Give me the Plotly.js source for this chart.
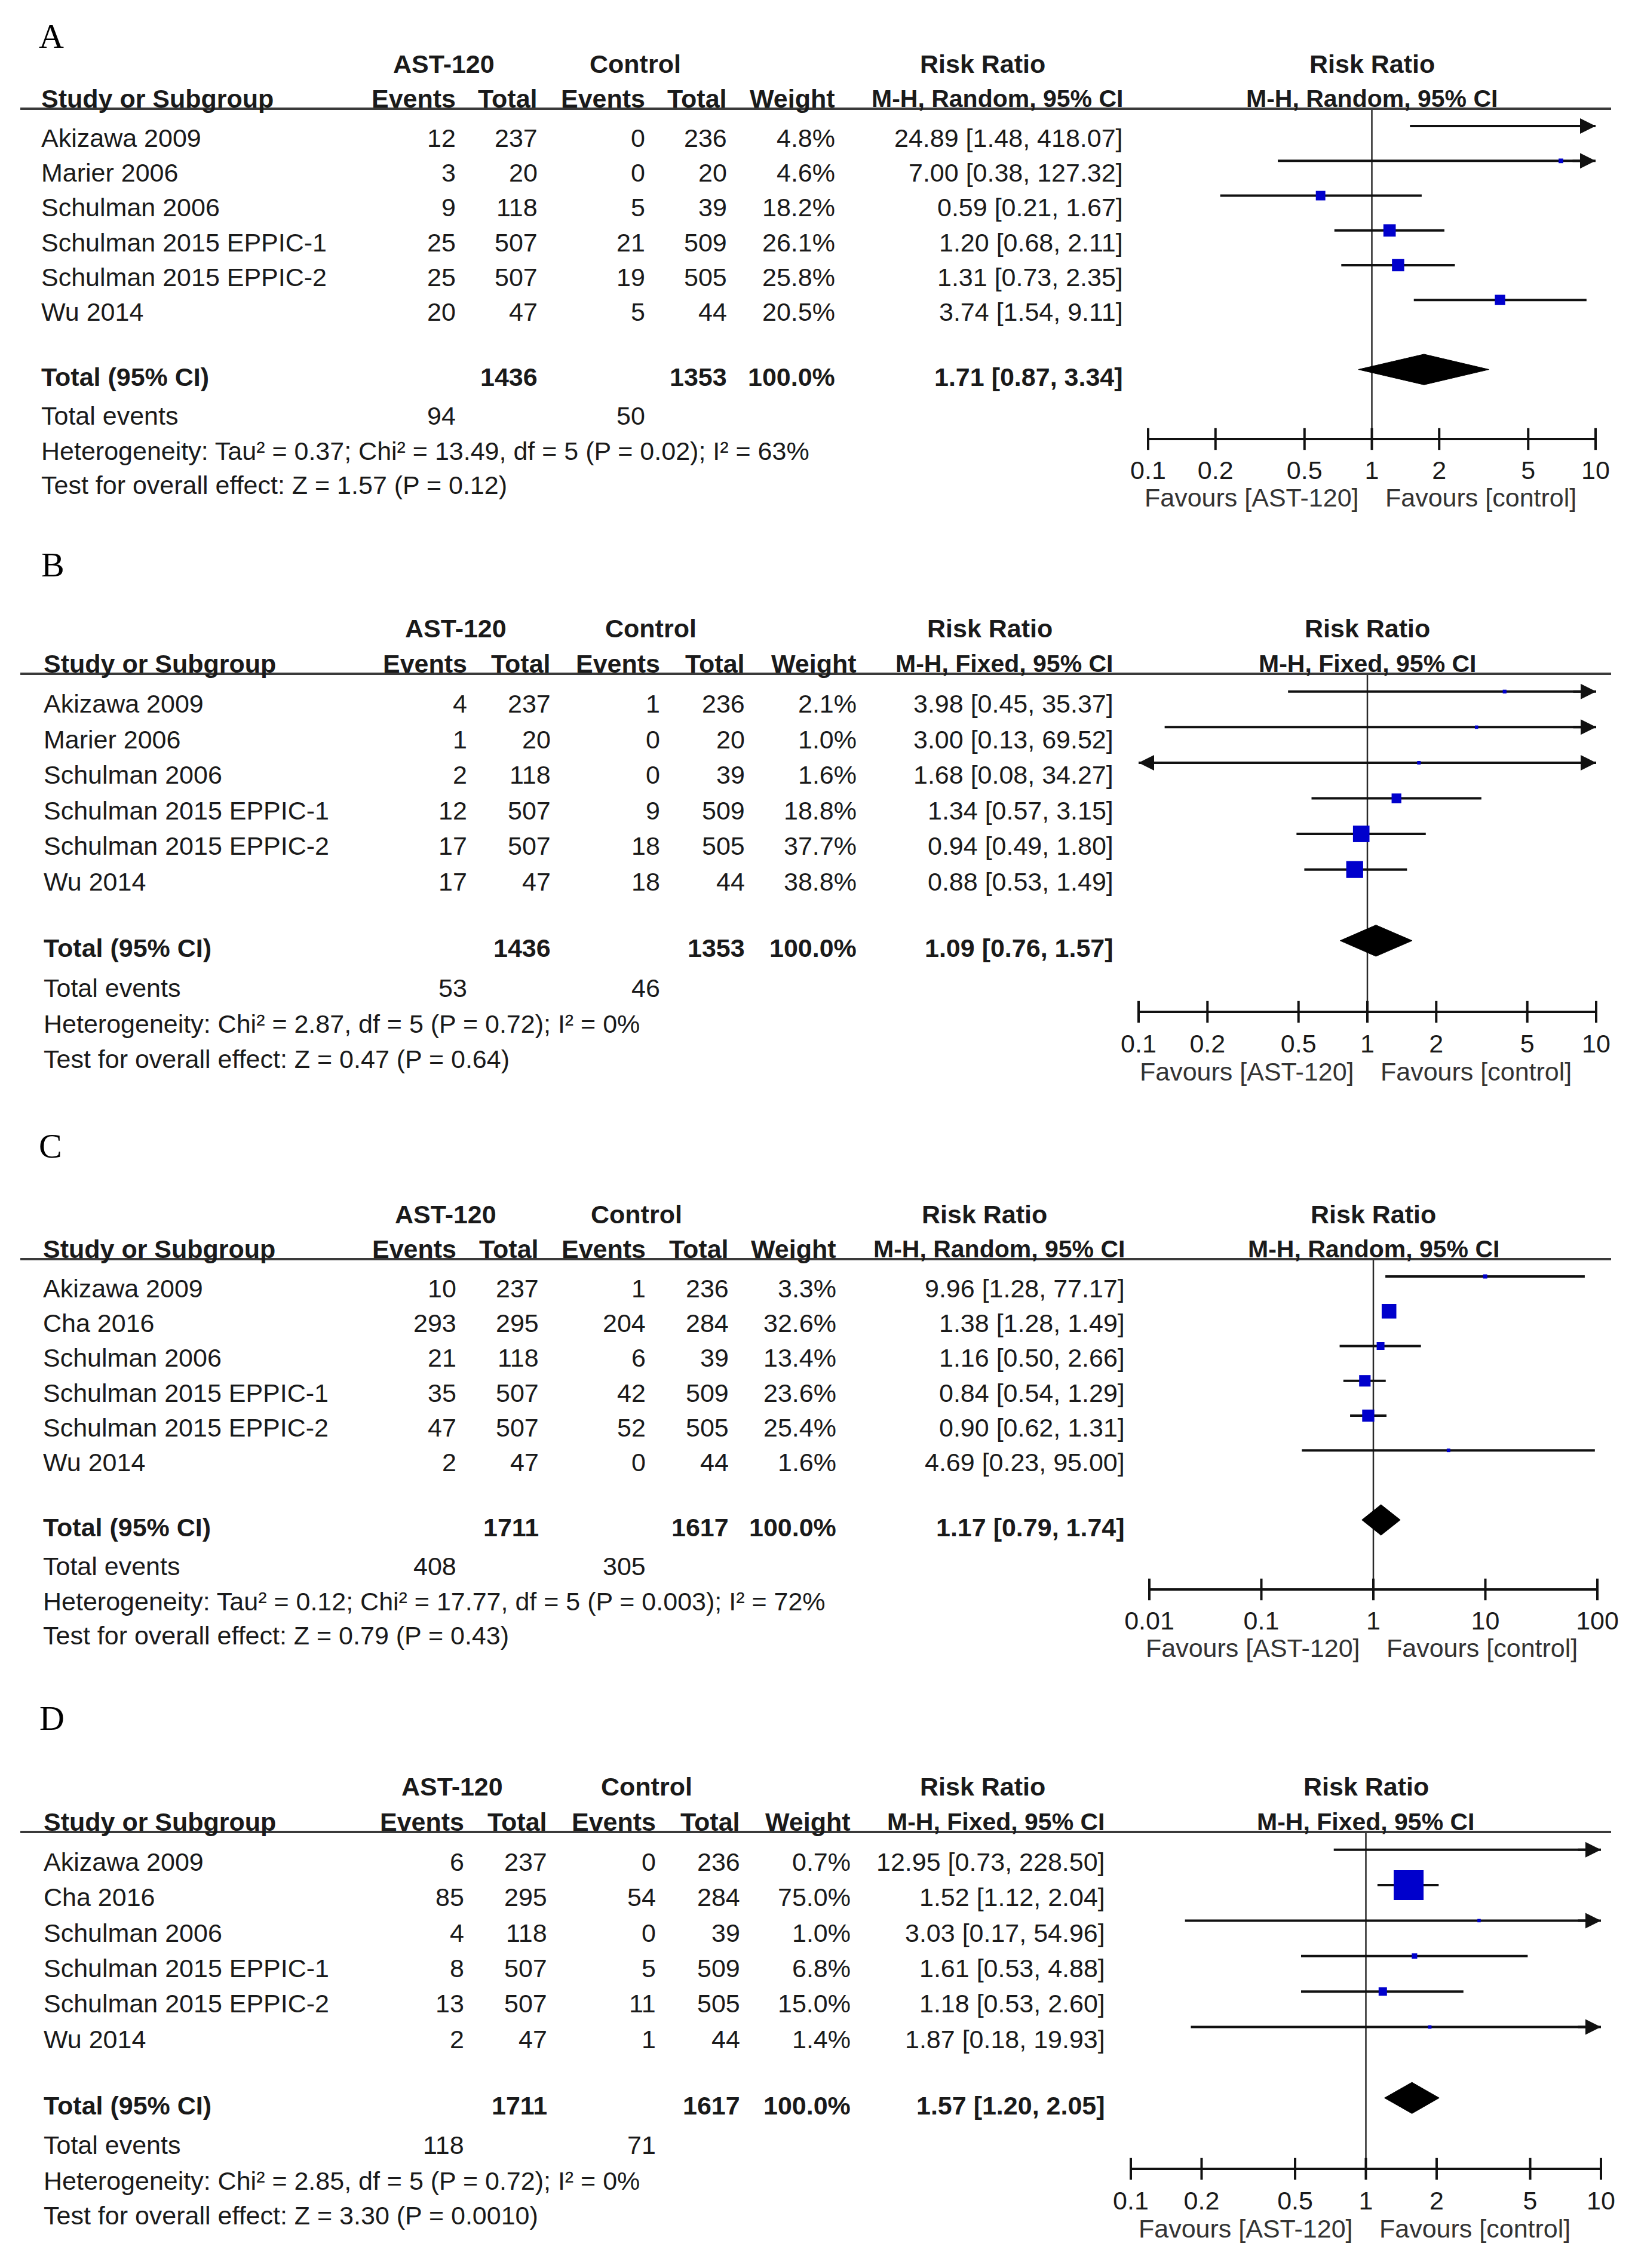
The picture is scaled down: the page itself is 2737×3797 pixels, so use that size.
<!DOCTYPE html>
<html><head><meta charset="utf-8">
<script src="https://cdn.plot.ly/plotly-3.0.1.min.js"></script>
<style>html,body{margin:0;padding:0;background:#fff}</style>
</head><body>
<div id="chart" style="width:2737px;height:3797px"></div>
<script>
// ---------------- DATA ----------------
const panelLetters = ['A', 'B', 'C', 'D'];
const methodLabels = ['M-H, Random, 95% CI', 'M-H, Fixed, 95% CI', 'M-H, Random, 95% CI', 'M-H, Fixed, 95% CI'];

const studiesAB = ['Akizawa 2009', 'Marier 2006', 'Schulman 2006', 'Schulman 2015 EPPIC-1', 'Schulman 2015 EPPIC-2', 'Wu 2014'];
const studiesCD = ['Akizawa 2009', 'Cha 2016', 'Schulman 2006', 'Schulman 2015 EPPIC-1', 'Schulman 2015 EPPIC-2', 'Wu 2014'];

// Panel A
const eventsA = [12, 3, 9, 25, 25, 20];
const totalA = [237, 20, 118, 507, 507, 47];
const ctrlEventsA = [0, 0, 5, 21, 19, 5];
const ctrlTotalA = [236, 20, 39, 509, 505, 44];
const weightA = [4.8, 4.6, 18.2, 26.1, 25.8, 20.5];
const rrA = [24.89, 7.00, 0.59, 1.20, 1.31, 3.74];
const loA = [1.48, 0.38, 0.21, 0.68, 0.73, 1.54];
const hiA = [418.07, 127.32, 1.67, 2.11, 2.35, 9.11];
const summaryA = [1.71, 0.87, 3.34];
const sumTotalsA = [1436, 1353];
const sumEventsA = [94, 50];
const hetA = 'Heterogeneity: Tau² = 0.37; Chi² = 13.49, df = 5 (P = 0.02); I² = 63%';
const testA = 'Test for overall effect: Z = 1.57 (P = 0.12)';

// Panel B
const eventsB = [4, 1, 2, 12, 17, 17];
const totalB = [237, 20, 118, 507, 507, 47];
const ctrlEventsB = [1, 0, 0, 9, 18, 18];
const ctrlTotalB = [236, 20, 39, 509, 505, 44];
const weightB = [2.1, 1.0, 1.6, 18.8, 37.7, 38.8];
const rrB = [3.98, 3.00, 1.68, 1.34, 0.94, 0.88];
const loB = [0.45, 0.13, 0.08, 0.57, 0.49, 0.53];
const hiB = [35.37, 69.52, 34.27, 3.15, 1.80, 1.49];
const summaryB = [1.09, 0.76, 1.57];
const sumTotalsB = [1436, 1353];
const sumEventsB = [53, 46];
const hetB = 'Heterogeneity: Chi² = 2.87, df = 5 (P = 0.72); I² = 0%';
const testB = 'Test for overall effect: Z = 0.47 (P = 0.64)';

// Panel C
const eventsC = [10, 293, 21, 35, 47, 2];
const totalC = [237, 295, 118, 507, 507, 47];
const ctrlEventsC = [1, 204, 6, 42, 52, 0];
const ctrlTotalC = [236, 284, 39, 509, 505, 44];
const weightC = [3.3, 32.6, 13.4, 23.6, 25.4, 1.6];
const rrC = [9.96, 1.38, 1.16, 0.84, 0.90, 4.69];
const loC = [1.28, 1.28, 0.50, 0.54, 0.62, 0.23];
const hiC = [77.17, 1.49, 2.66, 1.29, 1.31, 95.00];
const summaryC = [1.17, 0.79, 1.74];
const sumTotalsC = [1711, 1617];
const sumEventsC = [408, 305];
const hetC = 'Heterogeneity: Tau² = 0.12; Chi² = 17.77, df = 5 (P = 0.003); I² = 72%';
const testC = 'Test for overall effect: Z = 0.79 (P = 0.43)';

// Panel D
const eventsD = [6, 85, 4, 8, 13, 2];
const totalD = [237, 295, 118, 507, 507, 47];
const ctrlEventsD = [0, 54, 0, 5, 11, 1];
const ctrlTotalD = [236, 284, 39, 509, 505, 44];
const weightD = [0.7, 75.0, 1.0, 6.8, 15.0, 1.4];
const rrD = [12.95, 1.52, 3.03, 1.61, 1.18, 1.87];
const loD = [0.73, 1.12, 0.17, 0.53, 0.53, 0.18];
const hiD = [228.50, 2.04, 54.96, 4.88, 2.60, 19.93];
const summaryD = [1.57, 1.20, 2.05];
const sumTotalsD = [1711, 1617];
const sumEventsD = [118, 71];
const hetD = 'Heterogeneity: Chi² = 2.85, df = 5 (P = 0.72); I² = 0%';
const testD = 'Test for overall effect: Z = 3.30 (P = 0.0010)';

// Axis ticks
const ticksNarrow = [0.1, 0.2, 0.5, 1, 2, 5, 10];
const tickTextNarrow = ['0.1', '0.2', '0.5', '1', '2', '5', '10'];
const ticksWide = [0.01, 0.1, 1, 10, 100];
const tickTextWide = ['0.01', '0.1', '1', '10', '100'];
const favourLabels = ['Favours [AST-120]', 'Favours [control]'];

// ---------------- ASSEMBLY ----------------
const panels = [
  {studies: studiesAB, ev: eventsA, tot: totalA, cev: ctrlEventsA, ctot: ctrlTotalA, w: weightA, rr: rrA, lo: loA, hi: hiA, sum: summaryA, sumT: sumTotalsA, sumE: sumEventsA, het: hetA, test: testA, ticks: ticksNarrow, tickText: tickTextNarrow},
  {studies: studiesAB, ev: eventsB, tot: totalB, cev: ctrlEventsB, ctot: ctrlTotalB, w: weightB, rr: rrB, lo: loB, hi: hiB, sum: summaryB, sumT: sumTotalsB, sumE: sumEventsB, het: hetB, test: testB, ticks: ticksNarrow, tickText: tickTextNarrow},
  {studies: studiesCD, ev: eventsC, tot: totalC, cev: ctrlEventsC, ctot: ctrlTotalC, w: weightC, rr: rrC, lo: loC, hi: hiC, sum: summaryC, sumT: sumTotalsC, sumE: sumEventsC, het: hetC, test: testC, ticks: ticksWide, tickText: tickTextWide},
  {studies: studiesCD, ev: eventsD, tot: totalD, cev: ctrlEventsD, ctot: ctrlTotalD, w: weightD, rr: rrD, lo: loD, hi: hiD, sum: summaryD, sumT: sumTotalsD, sumE: sumEventsD, het: hetD, test: testD, ticks: ticksNarrow, tickText: tickTextNarrow}
];

// Layout geometry (pixels) per panel
const geom = [
  {T: 182, Ax: 735, x0: 1922, x1: 2671, letterY: 60, letterX: 63, study: 67, ev: 765, tot: 902, cev: 1082, ctot: 1219, wt: 1400, rrc: 1882, ast: 743, ctrl: 1063, rrh: 1645},
  {T: 1128, Ax: 1694, x0: 1906, x1: 2672, letterY: 946, letterX: 67, study: 71, ev: 784, tot: 924, cev: 1107, ctot: 1249, wt: 1436, rrc: 1866, ast: 763, ctrl: 1089, rrh: 1657},
  {T: 2108, Ax: 2661, x0: 1924, x1: 2674, letterY: 1919, letterX: 63, study: 70, ev: 766, tot: 904, cev: 1083, ctot: 1222, wt: 1402, rrc: 1885, ast: 746, ctrl: 1065, rrh: 1648},
  {T: 3067, Ax: 3631, x0: 1893, x1: 2680, letterY: 2876, letterX: 64, study: 71, ev: 779, tot: 918, cev: 1100, ctot: 1241, wt: 1426, rrc: 1852, ast: 757, ctrl: 1082, rrh: 1645}
];

const W = 2737, H = 3797;
const FONT = '"Liberation Sans", Arial, Helvetica, sans-serif';
const SERIF = '"Liberation Serif", "Times New Roman", serif';
const TXT = '#1a1a1a';
const FS = 43;
const BLUE = '#0000CC';

const traces = [];
const annotations = [];
const shapes = [];
const layout = {
  width: W, height: H,
  margin: {l: 0, r: 0, t: 0, b: 0},
  paper_bgcolor: '#ffffff', plot_bgcolor: 'rgba(0,0,0,0)',
  showlegend: false, hovermode: false,
  font: {family: FONT, size: FS, color: TXT}
};

function fmt2(v) { return v.toFixed(2); }
function ciText(r, l, h) { return fmt2(r) + ' [' + fmt2(l) + ', ' + fmt2(h) + ']'; }

function txt(text, xpx, ypx, anchor, extra) {
  const a = {
    xref: 'paper', yref: 'paper', x: xpx / W, y: 1 - ypx / H,
    xanchor: anchor, yanchor: 'middle', text: text, showarrow: false,
    font: {family: FONT, size: FS, color: TXT}
  };
  return Object.assign(a, extra || {});
}

panels.forEach((p, k) => {
  const g = geom[k];
  const unit = (g.Ax - g.T) / 9.5;
  const yTop = -0.5, yBot = 9.15;
  const botPx = g.T + (yBot - yTop) * unit;
  const rowPx = u => g.T + (u + 0.5) * unit;
  const xa = k === 0 ? 'x' : 'x' + (k + 1);
  const ya = k === 0 ? 'y' : 'y' + (k + 1);
  const xKey = k === 0 ? 'xaxis' : 'xaxis' + (k + 1);
  const yKey = k === 0 ? 'yaxis' : 'yaxis' + (k + 1);
  const tmin = p.ticks[0], tmax = p.ticks[p.ticks.length - 1];
  const idx = p.studies.map((_, i) => i);

  layout[xKey] = {
    type: 'log', range: [Math.log10(tmin), Math.log10(tmax)],
    domain: [g.x0 / W, g.x1 / W], anchor: ya,
    tickvals: p.ticks, ticktext: p.tickText,
    ticks: 'outside', ticklen: 6, tickcolor: 'rgba(0,0,0,0)',
    showgrid: false, zeroline: false, showline: false,
    tickfont: {family: FONT, size: FS, color: TXT}, fixedrange: true
  };
  layout[yKey] = {
    range: [yBot, yTop], domain: [1 - botPx / H, 1 - g.T / H], anchor: xa,
    showgrid: false, zeroline: false, showline: false, showticklabels: false, ticks: '', fixedrange: true
  };

  // reference line at RR = 1
  traces.push({x: [1, 1], y: [yTop, 9], xaxis: xa, yaxis: ya, mode: 'lines',
    line: {color: '#2a2a2a', width: 2.5}, hoverinfo: 'skip'});

  // CI lines
  const cx = [], cy = [];
  idx.forEach(i => { cx.push(p.lo[i], p.hi[i], null); cy.push(i, i, null); });
  traces.push({x: cx, y: cy, xaxis: xa, yaxis: ya, mode: 'lines',
    line: {color: '#111111', width: 4}, cliponaxis: true, hoverinfo: 'skip'});

  // point estimates (squares sized by weight)
  traces.push({x: p.rr, y: idx, xaxis: xa, yaxis: ya, mode: 'markers', cliponaxis: true,
    marker: {symbol: 'square', color: BLUE, opacity: 1, size: p.w.map(w => 5 + 0.6 * w), line: {width: 0}},
    hoverinfo: 'skip'});

  // summary diamond
  const dh = 0.44;
  traces.push({x: [p.sum[1], p.sum[0], p.sum[2], p.sum[0], p.sum[1]],
    y: [7, 7 - dh, 7, 7 + dh, 7], xaxis: xa, yaxis: ya, mode: 'lines', fill: 'toself',
    fillcolor: '#000000', line: {color: '#000000', width: 1}, hoverinfo: 'skip'});

  // x-axis line with crossing ticks
  traces.push({x: p.ticks, y: p.ticks.map(() => 9), xaxis: xa, yaxis: ya, mode: 'lines+markers',
    cliponaxis: false, line: {color: '#111111', width: 4},
    marker: {symbol: 'line-ns-open', size: 26, color: '#111111', opacity: 1, line: {color: '#111111', width: 4}},
    hoverinfo: 'skip'});

  // arrows for CIs beyond the axis
  idx.forEach(i => {
    if (p.hi[i] > tmax) {
      annotations.push({xref: xa, yref: ya, x: Math.log10(tmax), y: i, ax: -40, ay: 0,
        text: '', showarrow: true, arrowhead: 2, arrowsize: 1.3, arrowwidth: 4, arrowcolor: '#111111', standoff: 0});
    }
    if (p.lo[i] < tmin) {
      annotations.push({xref: xa, yref: ya, x: Math.log10(tmin), y: i, ax: 40, ay: 0,
        text: '', showarrow: true, arrowhead: 2, arrowsize: 1.3, arrowwidth: 4, arrowcolor: '#111111', standoff: 0});
    }
  });

  // header separator line
  shapes.push({type: 'line', xref: 'paper', yref: 'paper', x0: 34 / W, x1: 2697 / W,
    y0: 1 - g.T / H, y1: 1 - g.T / H, line: {color: '#3a3a3a', width: 4}});

  // Panel letter
  annotations.push(txt(panelLetters[k], g.letterX, g.letterY, 'left',
    {font: {family: SERIF, size: 58, color: '#000'}}));

  // Headers
  const h1 = rowPx(-1.78), h2 = rowPx(-0.79);
  const mhFont = {family: FONT, size: 41, color: TXT};
  annotations.push(txt('<b>AST-120</b>', g.ast, h1, 'center'));
  annotations.push(txt('<b>Control</b>', g.ctrl, h1, 'center'));
  annotations.push(txt('<b>Risk Ratio</b>', g.rrh, h1, 'center'));
  annotations.push(txt('<b>Study or Subgroup</b>', g.study, h2, 'left'));
  annotations.push(txt('<b>Events</b>', g.ev, h2, 'right'));
  annotations.push(txt('<b>Total</b>', g.tot, h2, 'right'));
  annotations.push(txt('<b>Events</b>', g.cev, h2, 'right'));
  annotations.push(txt('<b>Total</b>', g.ctot, h2, 'right'));
  annotations.push(txt('<b>Weight</b>', g.wt, h2, 'right'));
  annotations.push(txt('<b>' + methodLabels[k] + '</b>', g.rrc, h2, 'right', {font: mhFont}));
  // right-hand header over plot, centred on RR = 1
  annotations.push({xref: xa, yref: 'paper', x: 0, y: 1 - h1 / H, xanchor: 'center', yanchor: 'middle',
    text: '<b>Risk Ratio</b>', showarrow: false, font: {family: FONT, size: FS, color: TXT}});
  annotations.push({xref: xa, yref: 'paper', x: 0, y: 1 - h2 / H, xanchor: 'center', yanchor: 'middle',
    text: '<b>' + methodLabels[k] + '</b>', showarrow: false, font: mhFont});

  // Study rows
  idx.forEach(i => {
    const y = rowPx(i + 0.34);
    annotations.push(txt(p.studies[i], g.study, y, 'left'));
    annotations.push(txt(String(p.ev[i]), g.ev, y, 'right'));
    annotations.push(txt(String(p.tot[i]), g.tot, y, 'right'));
    annotations.push(txt(String(p.cev[i]), g.cev, y, 'right'));
    annotations.push(txt(String(p.ctot[i]), g.ctot, y, 'right'));
    annotations.push(txt(p.w[i].toFixed(1) + '%', g.wt, y, 'right'));
    annotations.push(txt(ciText(p.rr[i], p.lo[i], p.hi[i]), g.rrc, y, 'right'));
  });

  // Total row
  const yt = rowPx(7.21);
  const wSum = p.w.reduce((a, b) => a + b, 0);
  annotations.push(txt('<b>Total (95% CI)</b>', g.study, yt, 'left'));
  annotations.push(txt('<b>' + p.sumT[0] + '</b>', g.tot, yt, 'right'));
  annotations.push(txt('<b>' + p.sumT[1] + '</b>', g.ctot, yt, 'right'));
  annotations.push(txt('<b>' + (Math.round(wSum / 10) * 10).toFixed(1) + '%</b>', g.wt, yt, 'right'));
  annotations.push(txt('<b>' + ciText(p.sum[0], p.sum[1], p.sum[2]) + '</b>', g.rrc, yt, 'right'));

  // Total events, heterogeneity, overall effect
  const ye = rowPx(8.33);
  annotations.push(txt('Total events', g.study, ye, 'left'));
  annotations.push(txt(String(p.sumE[0]), g.ev, ye, 'right'));
  annotations.push(txt(String(p.sumE[1]), g.cev, ye, 'right'));
  annotations.push(txt(p.het, g.study, rowPx(9.34), 'left'));
  annotations.push(txt(p.test, g.study, rowPx(10.32), 'left'));

  // Favours labels
  const yf = rowPx(10.68);
  annotations.push({xref: xa, yref: 'paper', x: 0, y: 1 - yf / H, xanchor: 'right', yanchor: 'middle',
    xshift: -20, text: favourLabels[0], showarrow: false, font: {family: FONT, size: FS, color: '#333'}});
  annotations.push({xref: xa, yref: 'paper', x: 0, y: 1 - yf / H, xanchor: 'left', yanchor: 'middle',
    xshift: 20, text: favourLabels[1], showarrow: false, font: {family: FONT, size: FS, color: '#333'}});
});

layout.annotations = annotations;
layout.shapes = shapes;

Plotly.newPlot('chart', traces, layout, {staticPlot: true, displayModeBar: false});
</script>
</body></html>
